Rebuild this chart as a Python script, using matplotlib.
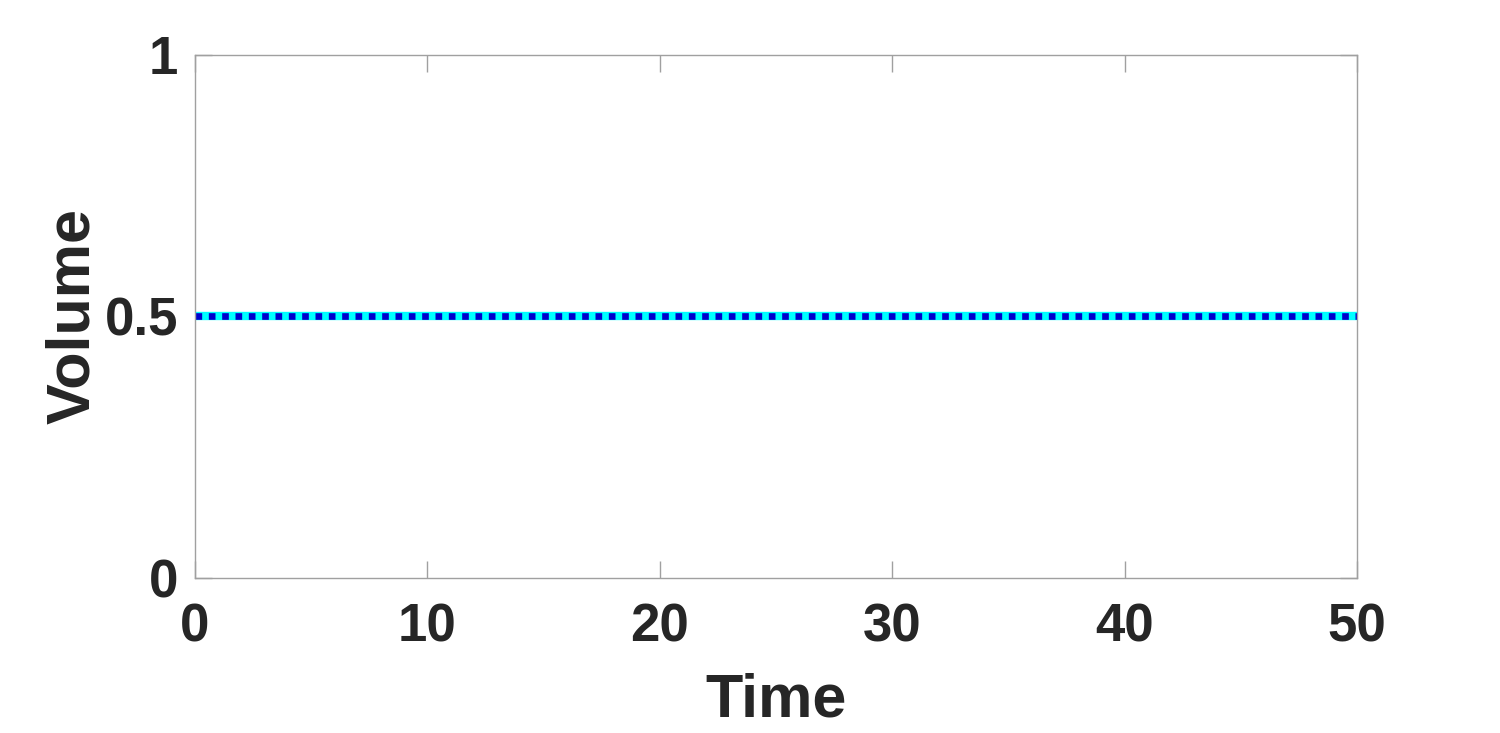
import matplotlib.pyplot as plt

time = [0, 50]
volume_a = [0.5, 0.5]
volume_b = [0.5, 0.5]
xticks = [0, 10, 20, 30, 40, 50]
yticks = [0, 0.5, 1]
ytick_labels = ["0", "0.5", "1"]

plt.rcParams["font.family"] = ["Liberation Sans", "DejaVu Sans"]
plt.rcParams["font.weight"] = "bold"

fig = plt.figure(figsize=(15, 7.33), dpi=100)
ax = fig.add_axes([0.13, 0.2115, 0.7747, 0.7135])

ax.plot(time, volume_a, color="#00ffff", linewidth=6, solid_capstyle="butt")
ax.plot(time, volume_b, color="#0000cc", linewidth=4.8, linestyle=(0, (1.0, 1.0)),
        dash_capstyle="butt")

ax.set_xlim(0, 50)
ax.set_ylim(0, 1)
ax.set_xticks(xticks)
ax.set_yticks(yticks)
ax.set_yticklabels(ytick_labels)
ax.tick_params(direction="in", length=12, width=1, color="#a0a0a0",
               labelsize=38, labelcolor="#262626", top=True, right=True)
ax.tick_params(axis="x", pad=18)
ax.tick_params(axis="y", pad=12)
for s in ax.spines.values():
    s.set_color("#a0a0a0")
    s.set_linewidth(1)

ax.set_xlabel("Time", fontsize=44, fontweight="bold", color="#262626", labelpad=14)
ax.set_ylabel("Volume", fontsize=44, fontweight="bold", color="#262626", labelpad=2)

fig.savefig("out.png", dpi=100)
